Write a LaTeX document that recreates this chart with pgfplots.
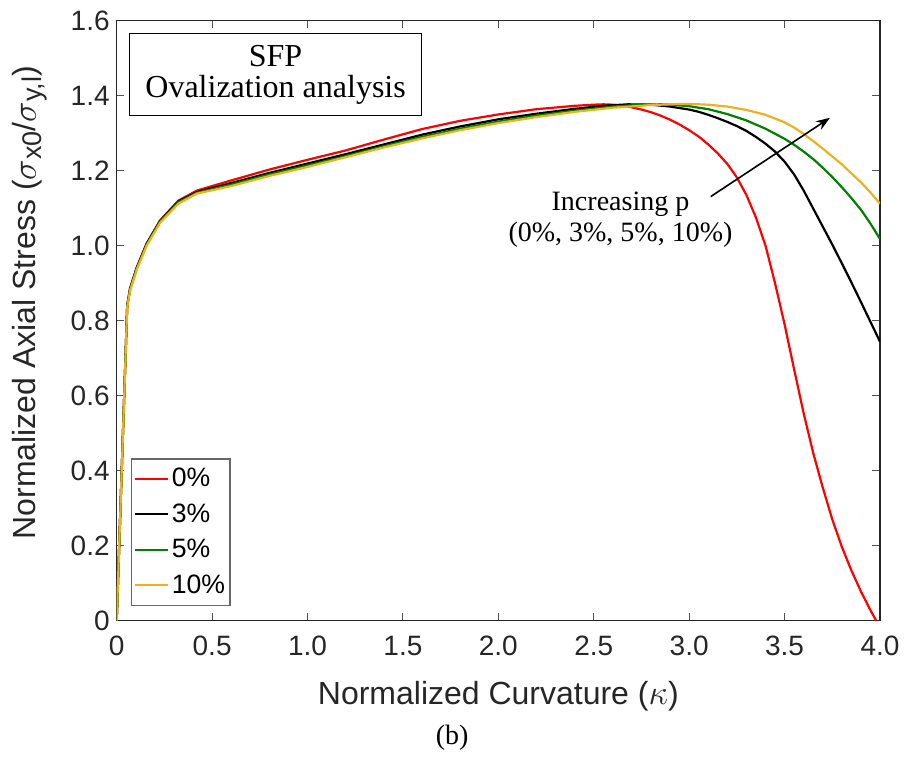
\documentclass[border=0pt]{standalone}
\usepackage{pgfplots}
\pgfplotsset{compat=1.18}
\usepackage{fontspec}
\setmainfont{Liberation Sans}
\newfontfamily\serifcam{Liberation Serif}
\usetikzlibrary{arrows.meta}
\definecolor{myyellow}{rgb}{0.929,0.694,0.125}
\definecolor{mygreen}{rgb}{0,0.5,0}
\definecolor{axgray}{rgb}{0.15,0.15,0.15}
\newcommand{\sub}[1]{\raisebox{-0.35ex}{\fontsize{13.5}{14}\selectfont #1}}
\begin{document}
\begin{tikzpicture}
\begin{axis}[
  scale only axis,
  width=381.65pt, height=300pt,
  xmin=0, xmax=4, ymin=0, ymax=1.6,
  xtick={0,0.5,1,1.5,2,2.5,3,3.5,4},
  xticklabels={0,0.5,1.0,1.5,2.0,2.5,3.0,3.5,4.0},
  ytick={0,0.2,0.4,0.6,0.8,1.0,1.2,1.4,1.6},
  yticklabels={0,0.2,0.4,0.6,0.8,1.0,1.2,1.4,1.6},
  tick align=inside,
  major tick length=3.8pt,
  axis line style={draw=axgray, line width=0.6pt},
  every tick/.style={draw=axgray!80, line width=0.5pt},
  tick label style={font=\fontsize{14}{16}\selectfont, text=axgray},
  xticklabel style={yshift=-4pt},
  xlabel={Normalized Curvature ($\kappa$)},
  ylabel={Normalized Axial Stress (\(\sigma\)\sub{x0}/\(\sigma\)\sub{y,l})},
  label style={font=\fontsize{16}{18}\selectfont, text=axgray},
  xlabel style={at={(axis description cs:0.5,-0.1267)}, anchor=center},
  ylabel style={at={(axis description cs:-0.1135,0.53)}, anchor=center},
  legend style={at={(axis description cs:0.0188,0.025)}, anchor=south west,
    draw=axgray!70, line width=0.6pt, font=\fontsize{13.3}{15}\selectfont,
    row sep=3pt, inner sep=2.5pt, inner xsep=1pt, nodes={inner xsep=1.5pt}},
  legend cell align=left,
  legend image code/.code={\draw[#1] (0pt,0pt) -- (16.5pt,0pt);},
  every axis plot/.append style={line width=1.1pt, line join=round},
  clip=true,
]
\addplot[red] coordinates {
(0,0)(0.055,0.84)(0.07,0.886)(0.105,0.942)(0.157,1.006)(0.227,1.067)(0.323,1.12)(0.42,1.147)(0.6,1.174)(0.8,1.203)(1.0,1.229)(1.2,1.254)(1.4,1.283)(1.6,1.311)(1.8,1.333)(2.0,1.350)(2.2,1.364)(2.4,1.373)(2.5,1.376)(2.55,1.377)(2.6,1.376)(2.65,1.373)(2.7,1.369)(2.75,1.363)(2.8,1.356)(2.85,1.347)(2.9,1.336)(2.95,1.323)(3.0,1.308)(3.05,1.291)(3.1,1.270)(3.15,1.246)(3.2,1.218)(3.25,1.182)(3.3,1.135)(3.35,1.075)(3.4,1.0)(3.45,0.9)(3.5,0.79)(3.55,0.67)(3.6,0.553)(3.65,0.447)(3.7,0.355)(3.75,0.27)(3.8,0.197)(3.85,0.134)(3.9,0.078)(3.95,0.028)(3.98,0)
};
\addlegendentry{0\%}
\addplot[black] coordinates {
(0,0)(0.055,0.84)(0.07,0.885)(0.105,0.941)(0.157,1.005)(0.227,1.066)(0.323,1.118)(0.42,1.143)(0.6,1.167)(0.8,1.194)(1.0,1.219)(1.2,1.244)(1.4,1.270)(1.6,1.296)(1.8,1.318)(2.0,1.337)(2.2,1.352)(2.4,1.365)(2.55,1.373)(2.68,1.377)(2.8,1.376)(2.9,1.371)(3.0,1.363)(3.05,1.357)(3.1,1.349)(3.15,1.340)(3.2,1.330)(3.25,1.319)(3.3,1.306)(3.35,1.290)(3.4,1.272)(3.45,1.251)(3.5,1.224)(3.55,1.190)(3.6,1.147)(3.65,1.099)(3.7,1.051)(3.75,1.003)(3.8,0.953)(3.85,0.902)(3.9,0.850)(3.95,0.797)(4.0,0.744)
};
\addlegendentry{3\%}
\addplot[mygreen] coordinates {
(0,0)(0.055,0.838)(0.07,0.883)(0.105,0.939)(0.157,1.003)(0.227,1.064)(0.323,1.116)(0.42,1.141)(0.6,1.163)(0.8,1.190)(1.0,1.214)(1.2,1.239)(1.4,1.265)(1.6,1.290)(1.8,1.312)(2.0,1.331)(2.2,1.347)(2.4,1.360)(2.6,1.371)(2.75,1.376)(2.85,1.377)(2.9,1.376)(3.0,1.372)(3.1,1.364)(3.2,1.351)(3.3,1.334)(3.4,1.312)(3.5,1.285)(3.55,1.269)(3.6,1.251)(3.65,1.231)(3.7,1.208)(3.75,1.183)(3.8,1.156)(3.85,1.127)(3.9,1.096)(3.95,1.059)(4.0,1.018)
};
\addlegendentry{5\%}
\addplot[myyellow] coordinates {
(0,0)(0.055,0.835)(0.07,0.88)(0.105,0.936)(0.157,1.0)(0.227,1.061)(0.323,1.112)(0.42,1.139)(0.6,1.159)(0.8,1.186)(1.0,1.210)(1.2,1.236)(1.4,1.262)(1.6,1.286)(1.8,1.308)(2.0,1.327)(2.2,1.343)(2.4,1.357)(2.6,1.368)(2.8,1.375)(2.95,1.378)(3.0,1.378)(3.1,1.376)(3.2,1.371)(3.3,1.362)(3.4,1.349)(3.5,1.329)(3.55,1.315)(3.6,1.298)(3.65,1.279)(3.7,1.259)(3.75,1.238)(3.8,1.217)(3.85,1.193)(3.9,1.169)(3.95,1.142)(4.0,1.112)
};
\addlegendentry{10\%}
\draw[-{Stealth[length=7pt,width=5pt]}, line width=0.8pt, black] (axis cs:3.113,1.131) -- (axis cs:3.738,1.341);
\node[align=center, font=\serifcam\fontsize{14}{15.5}\selectfont, anchor=center] at (axis cs:2.64,1.068) {Increasing p\\(0\%, 3\%, 5\%, 10\%)};
\node[draw=black, line width=0.6pt, anchor=north west, minimum width=145.7pt, minimum height=40.8pt, align=center, inner sep=0pt, font=\serifcam\fontsize{16}{15.8}\selectfont] at ([xshift=6.3pt,yshift=-6.3pt]rel axis cs:0,1) {SFP\\Ovalization analysis};
\end{axis}
\node[font=\serifcam\fontsize{14}{15}\selectfont, anchor=center] at ([xshift=167.7pt,yshift=-58.7pt]current axis.south west) {(b)};
\pgfresetboundingbox
\path ([xshift=-58.35pt,yshift=-68.65pt]current axis.south west) rectangle ([xshift=12pt,yshift=10.35pt]current axis.north east);
\end{tikzpicture}
\end{document}
